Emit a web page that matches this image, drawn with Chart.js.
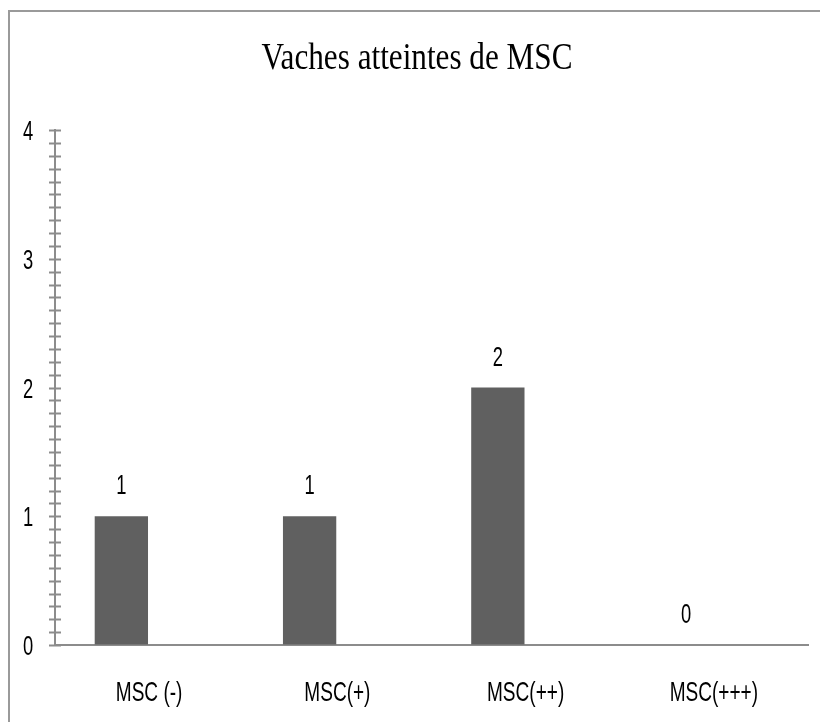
<!doctype html>
<html lang="fr">
  <head>
    <title>Vaches atteintes de MSC</title>
    <script src="https://cdn.jsdelivr.net/npm/chart.js"></script>
    <style>
      body { margin: 0; background: #fff; }
      #wrap { position: relative; width: 820px; height: 722px; overflow: hidden; }
      #frame {
        position: absolute; left: 8px; top: 10px; width: 900px; height: 800px;
        border-left: 2px solid #9a9a9a; border-top: 2px solid #9a9a9a;
      }
      canvas { position: absolute; left: 0; top: 0; }
    </style>
  </head>
  <body>
    <div id="wrap">
      <div id="frame"></div>
      <canvas id="mscChart" width="820" height="722"></canvas>
    </div>

    <script>
      const categories = ['MSC (-)', 'MSC(+)', 'MSC(++)', 'MSC(+++)'];
      const cowCounts = [1, 1, 2, 0];
      const emptySeries = [null, null, null, null];
      const yTicks = [0, 1, 2, 3, 4];
      const chartTitle = 'Vaches atteintes de MSC';

      const sansFont = "'Liberation Sans', Arial, sans-serif";
      const serifFont = "'Liberation Serif', 'Times New Roman', serif";
      const axisGray = '#8c8c8c';

      // the original text is tall and narrow, so squeeze it horizontally
      function narrowText(ctx, text, x, y, size, family, sx) {
        ctx.save();
        ctx.font = size + 'px ' + family;
        ctx.textAlign = 'center';
        ctx.textBaseline = 'alphabetic';
        ctx.translate(x, y);
        ctx.scale(sx, 1);
        ctx.fillText(text, 0, 0);
        ctx.restore();
      }

      // little cross ticks every 0.1 on the y axis
      const minorTicks = {
        id: 'minorTicks',
        afterDraw(chart) {
          const y = chart.scales.y;
          const ctx = chart.ctx;
          const x0 = y.right;
          ctx.save();
          ctx.strokeStyle = axisGray;
          ctx.lineWidth = 2;
          for (let i = 0; i <= 40; i++) {
            const py = Math.round(y.getPixelForValue(i / 10)) + 0.5;
            ctx.beginPath();
            ctx.moveTo(x0 - 6, py);
            ctx.lineTo(x0 + 6, py);
            ctx.stroke();
          }
          ctx.restore();
        }
      };

      // title, axis labels and bar values
      const texts = {
        id: 'texts',
        afterDraw(chart) {
          const ctx = chart.ctx;
          const xs = chart.scales.x;
          const ys = chart.scales.y;
          ctx.save();
          ctx.fillStyle = '#000';

          // title
          ctx.font = '38px ' + serifFont;
          const tw = ctx.measureText(chartTitle).width;
          narrowText(ctx, chartTitle, 417, 69, 38, serifFont, 311 / tw);

          yTicks.forEach(v => {
            narrowText(ctx, String(v), 28, ys.getPixelForValue(v) + 10, 27, sansFont, 0.68);
          });

          categories.forEach((c, i) => {
            narrowText(ctx, c, xs.getPixelForValue(i), xs.top + 56, 28, sansFont, 0.68);
          });

          chart.getDatasetMeta(0).data.forEach((bar, i) => {
            narrowText(ctx, String(cowCounts[i]), bar.x, bar.y - 22, 27, sansFont, 0.68);
          });
          ctx.restore();
        }
      };

      const ctx = document.getElementById('mscChart').getContext('2d');
      new Chart(ctx, {
        type: 'bar',
        data: {
          labels: categories,
          datasets: [
            { label: 'Vaches', data: cowCounts, backgroundColor: '#606060', borderWidth: 0 },
            { label: '', data: emptySeries, backgroundColor: '#606060', borderWidth: 0 }
          ]
        },
        options: {
          responsive: false,
          animation: false,
          categoryPercentage: 0.59,
          barPercentage: 0.96,
          layout: { padding: { left: 0, right: 12, top: 130, bottom: 0 } },
          plugins: {
            legend: { display: false },
            tooltip: { enabled: false },
            title: { display: false }
          },
          scales: {
            x: {
              grid: { display: false, drawTicks: false },
              border: { display: true, color: axisGray, width: 2 },
              ticks: { display: false },
              afterFit(scale) { scale.height = 77; }
            },
            y: {
              min: 0,
              max: 4,
              grid: { drawOnChartArea: false, drawTicks: false },
              border: { display: true, color: axisGray, width: 2 },
              afterBuildTicks(scale) { scale.ticks = yTicks.map(v => ({ value: v })); },
              ticks: { display: false },
              afterFit(scale) { scale.width = 55; }
            }
          }
        },
        plugins: [minorTicks, texts]
      });
    </script>
  </body>
</html>
